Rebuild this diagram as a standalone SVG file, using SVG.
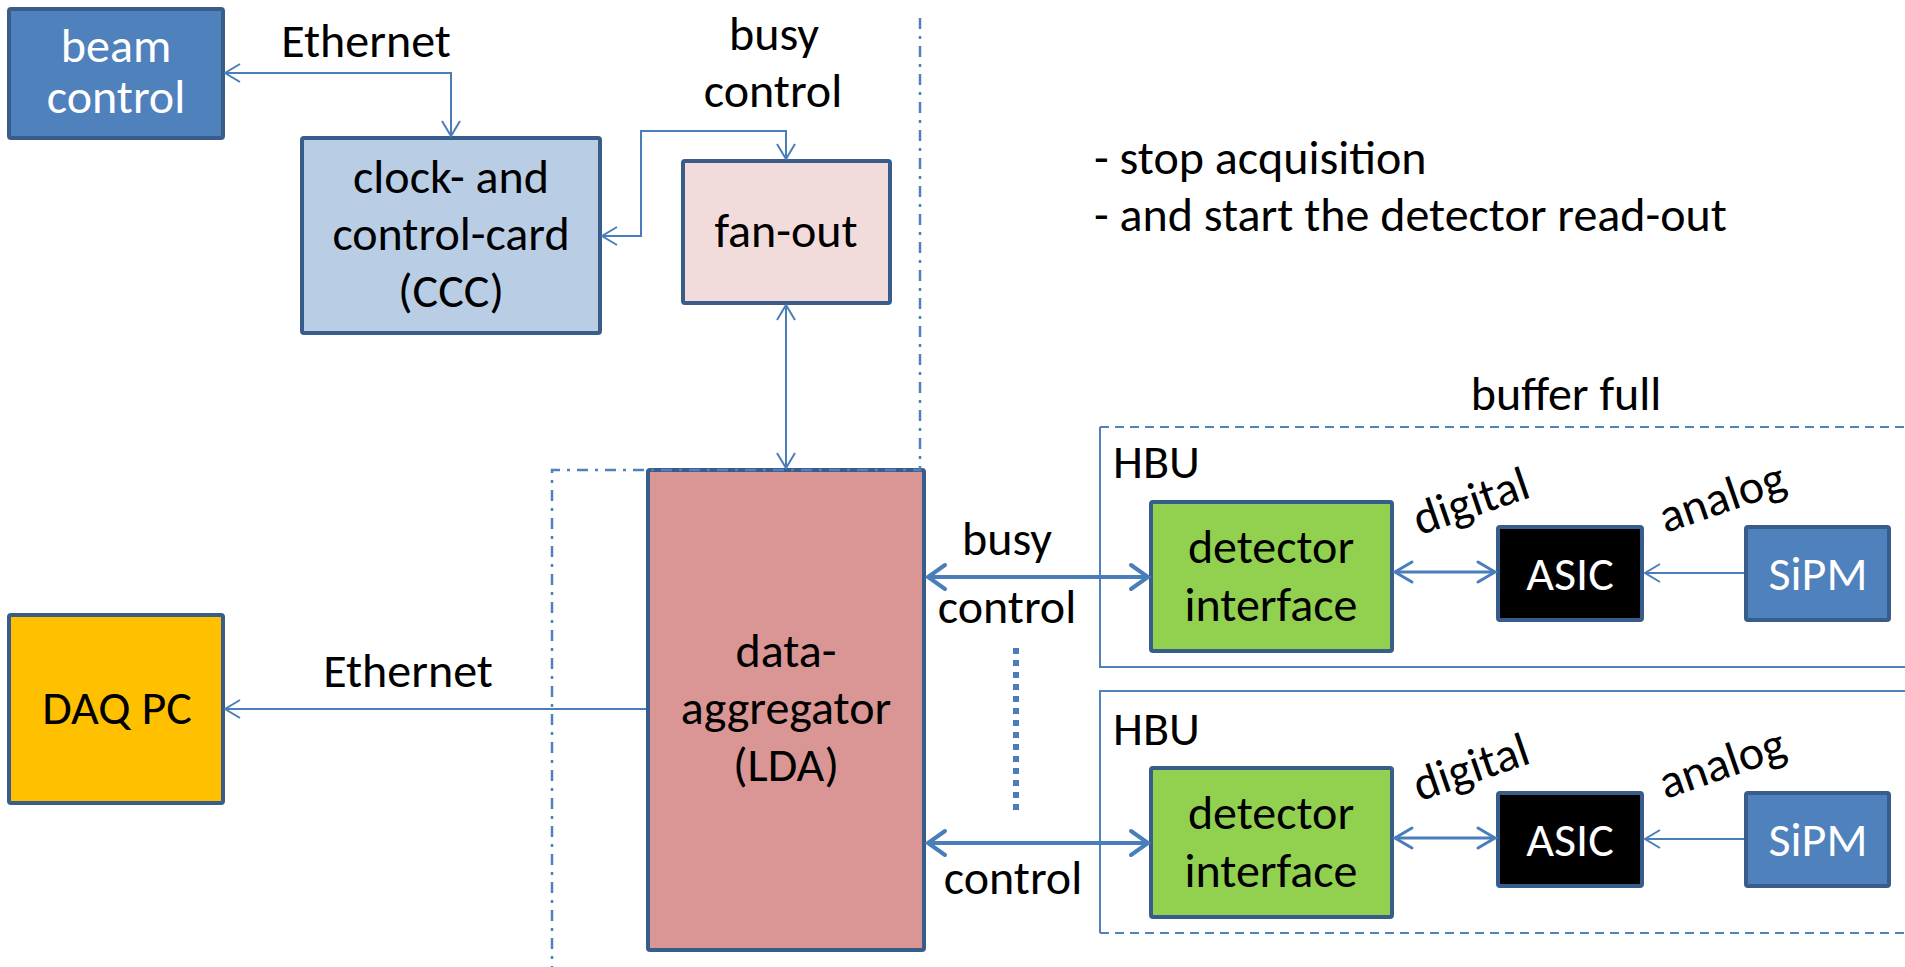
<svg xmlns="http://www.w3.org/2000/svg" width="1905" height="967" viewBox="0 0 1905 967">
<style>
text{font-family:Carlito,"Liberation Sans",sans-serif;font-size:48px;fill:#000}
.c{text-anchor:middle}
.w{fill:#fff}
.box{stroke:#385D8A;stroke-width:4}
.ln{fill:none;stroke:#4A7EBB;stroke-width:2}
.thick{fill:none;stroke:#4A7EBB;stroke-width:4}
.mid{fill:none;stroke:#4A7EBB;stroke-width:3}
.frame{fill:none;stroke:#4F81BD;stroke-width:2}
.dash{stroke-dasharray:9 6}
</style>
<defs>
<marker id="a" markerUnits="userSpaceOnUse" viewBox="-18 -11 20 22" markerWidth="20" markerHeight="22" refX="0" refY="0" orient="auto-start-reverse" overflow="visible">
<path d="M-15,-9 L0,0 L-15,9" fill="none" stroke="#4A7EBB" stroke-width="2"/>
</marker>
<marker id="b" markerUnits="userSpaceOnUse" viewBox="-20 -13 22 26" markerWidth="22" markerHeight="26" refX="0" refY="0" orient="auto-start-reverse" overflow="visible">
<path d="M-17,-12 L0,0 L-17,12" fill="none" stroke="#4A7EBB" stroke-width="4" stroke-linecap="round"/>
</marker>
<marker id="m" markerUnits="userSpaceOnUse" viewBox="-20 -12 22 24" markerWidth="22" markerHeight="24" refX="0" refY="0" orient="auto-start-reverse" overflow="visible">
<path d="M-17,-10 L0,0 L-17,10" fill="none" stroke="#4A7EBB" stroke-width="3" stroke-linecap="round"/>
</marker>
</defs>

<g id="hbu1-frame">
<line class="frame dash" x1="1100" y1="427" x2="1905" y2="427"/>
<path class="frame" d="M1100 427 V667 H1905"/>
</g>
<g id="hbu2-frame">
<path class="frame" d="M1905 691 H1100 V933"/>
<line class="frame dash" x1="1100" y1="933" x2="1905" y2="933"/>
</g>

<g id="beam-control">
<rect class="box" x="9" y="9" width="214" height="129" rx="2" fill="#4F81BD"/>
<text class="c w" font-size="40"><tspan x="116" y="62">beam</tspan><tspan x="116" y="113">control</tspan></text>
</g>
<g id="ccc">
<rect class="box" x="302" y="138" width="298" height="195" rx="2" fill="#B9CDE5"/>
<text class="c" x="451" y="193">clock- and</text>
<text class="c" x="451" y="250">control-card</text>
<text class="c" x="451" y="307">(CCC)</text>
</g>
<g id="fan-out">
<rect class="box" x="683" y="161" width="207" height="142" rx="2" fill="#F2DCDB"/>
<text class="c" x="786" y="247">fan-out</text>
</g>
<g id="lda">
<rect class="box" x="648" y="470" width="276" height="480" rx="2" fill="#D99694"/>
<text class="c" x="786" y="667">data-</text>
<text class="c" x="786" y="724">aggregator</text>
<text class="c" x="786" y="781">(LDA)</text>
</g>
<g id="daq-pc">
<rect class="box" x="9" y="615" width="214" height="188" rx="2" fill="#FFC000"/>
<text class="c" x="117" y="724" font-size="43">DAQ PC</text>
</g>
<g id="det-if-1">
<rect class="box" x="1151" y="502" width="241" height="149" rx="2" fill="#92D050"/>
<text class="c" x="1271" y="563">detector</text>
<text class="c" x="1271" y="621">interface</text>
</g>
<g id="asic-1">
<rect class="box" x="1498" y="527" width="144" height="93" rx="2" fill="#000"/>
<text class="c w" x="1570" y="590">ASIC</text>
</g>
<g id="sipm-1">
<rect class="box" x="1746" y="527" width="143" height="93" rx="2" fill="#4F81BD"/>
<text class="c w" x="1818" y="590">SiPM</text>
</g>
<g id="det-if-2">
<rect class="box" x="1151" y="768" width="241" height="149" rx="2" fill="#92D050"/>
<text class="c" x="1271" y="829">detector</text>
<text class="c" x="1271" y="887">interface</text>
</g>
<g id="asic-2">
<rect class="box" x="1498" y="793" width="144" height="93" rx="2" fill="#000"/>
<text class="c w" x="1570" y="856">ASIC</text>
</g>
<g id="sipm-2">
<rect class="box" x="1746" y="793" width="143" height="93" rx="2" fill="#4F81BD"/>
<text class="c w" x="1818" y="856">SiPM</text>
</g>

<g id="connectors">
<path class="ln" d="M225 73 H451 V136" marker-start="url(#a)" marker-end="url(#a)"/>
<path class="ln" d="M602 236 H641 V131 H786 V159" marker-start="url(#a)" marker-end="url(#a)"/>
<path class="ln" d="M786 305 V468" marker-start="url(#a)" marker-end="url(#a)"/>
<path class="ln" d="M646 709 H225" marker-end="url(#a)"/>
<path class="thick" d="M928 577 H1148" marker-start="url(#b)" marker-end="url(#b)"/>
<path class="thick" d="M928 843 H1148" marker-start="url(#b)" marker-end="url(#b)"/>
<path class="mid" d="M1395 572 H1495" marker-start="url(#m)" marker-end="url(#m)"/>
<path class="mid" d="M1395 838 H1495" marker-start="url(#m)" marker-end="url(#m)"/>
<path class="ln" d="M1744 573 H1645" marker-end="url(#a)"/>
<path class="ln" d="M1744 839 H1645" marker-end="url(#a)"/>
<line x1="1016" y1="648" x2="1016" y2="812" stroke="#4A7EBB" stroke-width="6" stroke-dasharray="6 6"/>
</g>

<path id="boundary" d="M920 18 V470 H552 V967" fill="none" stroke="#4F81BD" stroke-width="2.5" stroke-dasharray="11 7 3 7"/>

<g id="labels">
<text class="c" x="366" y="57">Ethernet</text>
<text class="c" x="774" y="50">busy</text>
<text class="c" x="773" y="107">control</text>
<text x="1094" y="174">- stop acquisition</text>
<text x="1094" y="231">- and start the detector read-out</text>
<text class="c" x="1566" y="410">buffer full</text>
<text class="c" x="408" y="687">Ethernet</text>
<text class="c" x="1007" y="555">busy</text>
<text class="c" x="1007" y="623">control</text>
<text class="c" x="1013" y="894">control</text>
<text x="1113" y="478">HBU</text>
<text x="1113" y="745">HBU</text>
<text class="c" transform="translate(1476 516) rotate(-19)">digital</text>
<text class="c" transform="translate(1727 512) rotate(-19)">analog</text>
<text class="c" transform="translate(1476 782) rotate(-19)">digital</text>
<text class="c" transform="translate(1727 778) rotate(-19)">analog</text>
</g>
</svg>
